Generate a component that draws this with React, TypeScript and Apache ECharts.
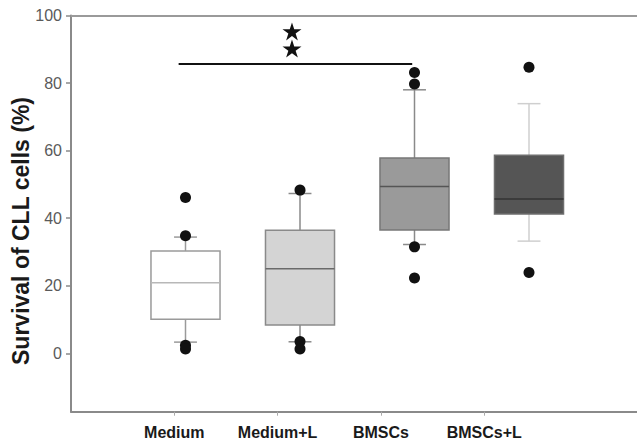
import React, { useEffect, useRef } from "react";
import * as echarts from "echarts";

// ---- data ----
const categories = ["Medium", "Medium+L", "BMSCs", "BMSCs+L"];
const boxPositions = [1, 2, 3, 4];
const whiskerLow = [3.3, 3.4, 32.2, 33.2];
const q1 = [10.1, 8.4, 36.5, 41.2];
const median = [20.9, 25.0, 49.4, 45.7];
const q3 = [30.3, 36.4, 57.8, 58.6];
const whiskerHigh = [34.4, 47.3, 78.0, 73.9];
const outliers: number[][] = [
  [46.1, 34.8, 2.4, 1.3],
  [48.3, 3.5, 1.3],
  [83.1, 79.7, 31.5, 22.3],
  [84.7, 23.9],
];
const yTicks = [0, 20, 40, 60, 80, 100];
const sigLineX = [0.94, 2.98];
const sigLineY = 85.7;
const starX = 1.93;
const starY = [90.2, 95.3];

// ---- styles ----
const boxStyles = [
  { fill: "#ffffff", border: "#9a9a9a", med: "#b8b8b8", whisker: "#9a9a9a" },
  { fill: "#d4d4d4", border: "#8a8a8a", med: "#6a6a6a", whisker: "#8a8a8a" },
  { fill: "#9a9a9a", border: "#777777", med: "#555555", whisker: "#8a8a8a" },
  { fill: "#555555", border: "#6e6e6e", med: "#333333", whisker: "#cfcfcf" },
];

const STAR =
  "path://M50,0 L61.2,34.5 L97.6,34.5 L68.2,55.9 L79.4,90.5 L50,69.1 L20.6,90.5 L31.8,55.9 L2.4,34.5 L38.8,34.5 Z";

export default function App() {
  const ref = useRef<HTMLDivElement>(null);
  useEffect(() => {
    document.body.style.margin = "0";
    if (!ref.current) return;
    const chart = echarts.init(ref.current, undefined, { renderer: "svg" });

    const boxData = boxPositions.map((x, i) => [
      x,
      whiskerLow[i],
      q1[i],
      median[i],
      q3[i],
      whiskerHigh[i],
    ]);
    const outlierData: number[][] = [];
    outliers.forEach((arr, i) => arr.forEach((v) => outlierData.push([boxPositions[i], v])));

    const gridLeft = 71;
    const gridWidth = 637 - gridLeft;
    const boxStep = 114.5;
    const tickStep = 103.3;

    chart.setOption({
      animation: false,
      grid: { left: gridLeft, right: 0, top: 15.5, bottom: 30.3, containLabel: false },
      xAxis: [
        {
          type: "value",
          min: 0,
          max: gridWidth / boxStep,
          position: "top",
          axisLine: { show: true, onZero: false, lineStyle: { color: "#9a9a9a", width: 2 } },
          axisTick: { show: false },
          axisLabel: { show: false },
          splitLine: { show: false },
        },
        {
          type: "value",
          min: 0,
          max: gridWidth / tickStep,
          position: "bottom",
          axisLine: { show: true, onZero: false, lineStyle: { color: "#8a8a8a", width: 2 } },
          axisTick: {
            show: true,
            length: 4,
            customValues: boxPositions,
            lineStyle: { color: "#aaaaaa", width: 1 },
          },
          axisLabel: {
            show: true,
            customValues: boxPositions,
            formatter: (v: number) => categories[Math.round(v) - 1] ?? "",
            fontFamily: "Arial, 'Liberation Sans', sans-serif",
            fontWeight: "bold",
            fontSize: 16,
            color: "#1a1a1a",
            margin: 13,
          },
          splitLine: { show: false },
        },
      ],
      yAxis: {
        type: "value",
        min: -17.3,
        max: 100,
        axisLine: { show: true, onZero: false, lineStyle: { color: "#8a8a8a", width: 2 } },
        axisTick: {
          show: true,
          length: 5,
          customValues: yTicks,
          lineStyle: { color: "#8a8a8a", width: 1.5 },
        },
        axisLabel: {
          show: true,
          customValues: yTicks,
          fontFamily: "Arial, 'Liberation Sans', sans-serif",
          fontSize: 16,
          color: "#5a5a5a",
          margin: 9,
        },
        splitLine: { show: false },
      },
      graphic: [
        {
          type: "text",
          x: 21,
          y: 231,
          rotation: Math.PI / 2,
          style: {
            text: "Survival of CLL cells (%)",
            font: "bold 23px Arial, 'Liberation Sans', sans-serif",
            fill: "#1a1a1a",
            textAlign: "center",
            textVerticalAlign: "middle",
          },
        },
      ],
      series: [
        {
          type: "custom",
          xAxisIndex: 0,
          data: boxData,
          encode: { x: 0, y: [1, 2, 3, 4, 5] },
          renderItem: (params: any, api: any) => {
            const i = params.dataIndex;
            const st = boxStyles[i];
            const x = api.value(0);
            const lo = api.coord([x, api.value(1)]);
            const b1 = api.coord([x, api.value(2)]);
            const md = api.coord([x, api.value(3)]);
            const b3 = api.coord([x, api.value(4)]);
            const hi = api.coord([x, api.value(5)]);
            const bw = api.size([0.603, 0])[0];
            const cw = api.size([0.2, 0])[0];
            const cx = lo[0];
            const wStyle = { stroke: st.whisker, lineWidth: 1.5 };
            return {
              type: "group",
              children: [
                { type: "line", shape: { x1: cx, y1: lo[1], x2: cx, y2: b1[1] }, style: wStyle },
                { type: "line", shape: { x1: cx, y1: b3[1], x2: cx, y2: hi[1] }, style: wStyle },
                { type: "line", shape: { x1: cx - cw / 2, y1: lo[1], x2: cx + cw / 2, y2: lo[1] }, style: wStyle },
                { type: "line", shape: { x1: cx - cw / 2, y1: hi[1], x2: cx + cw / 2, y2: hi[1] }, style: wStyle },
                {
                  type: "rect",
                  shape: { x: cx - bw / 2, y: b3[1], width: bw, height: b1[1] - b3[1] },
                  style: { fill: st.fill, stroke: st.border, lineWidth: 1.5 },
                },
                {
                  type: "line",
                  shape: { x1: cx - bw / 2, y1: md[1], x2: cx + bw / 2, y2: md[1] },
                  style: { stroke: st.med, lineWidth: 1.5 },
                },
              ],
            };
          },
          markLine: {
            silent: true,
            symbol: "none",
            label: { show: false },
            lineStyle: { color: "#111111", width: 2, type: "solid" },
            data: [[{ coord: [sigLineX[0], sigLineY] }, { coord: [sigLineX[1], sigLineY] }]],
          },
          z: 2,
        },
        {
          type: "scatter",
          xAxisIndex: 0,
          data: outlierData,
          symbol: "circle",
          symbolSize: 11,
          itemStyle: { color: "#111111", opacity: 1 },
          z: 3,
        },
        {
          type: "scatter",
          xAxisIndex: 0,
          data: starY.map((y) => [starX, y]),
          symbol: STAR,
          symbolSize: [19, 18],
          itemStyle: { color: "#111111", opacity: 1 },
          z: 3,
        },
      ],
    });
    return () => chart.dispose();
  }, []);
  return <div ref={ref} style={{ width: 637, height: 442 }} />;
}
